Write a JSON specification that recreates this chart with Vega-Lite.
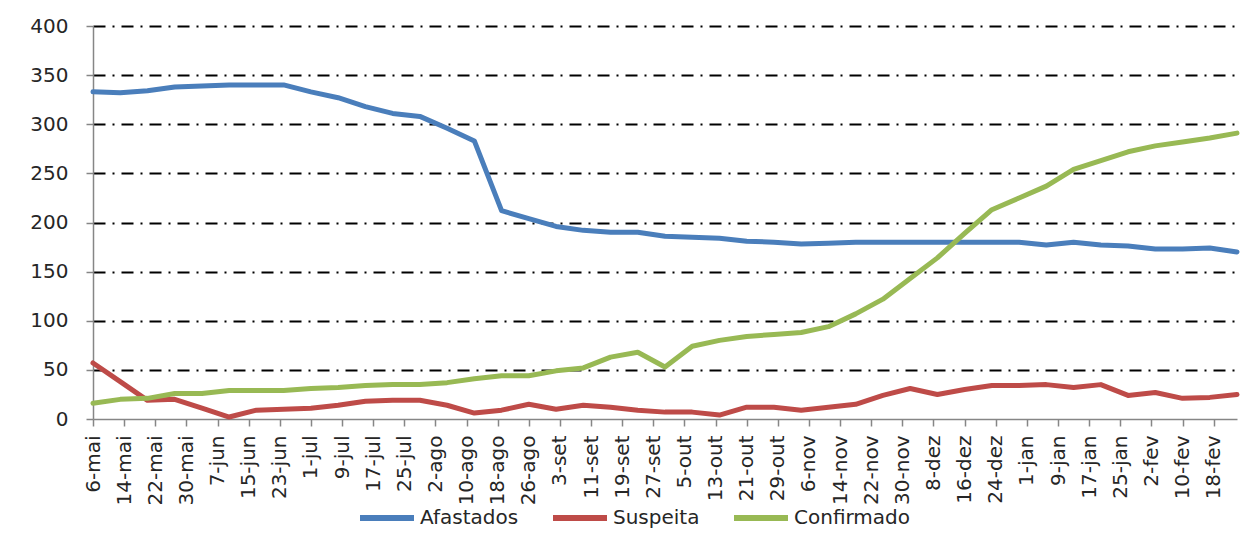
{
  "$schema": "https://vega.github.io/schema/vega-lite/v6.json",
  "width": 1144,
  "height": 393,
  "autosize": {"type": "none"},
  "padding": {"left": 93, "top": 26, "right": 16, "bottom": 116},
  "background": "white",
  "data": {
    "values": [
      {"date": "2020-05-06", "Afastados": 333, "Suspeita": 57, "Confirmado": 16},
      {"date": "2020-05-13", "Afastados": 332, "Suspeita": 38, "Confirmado": 20},
      {"date": "2020-05-20", "Afastados": 334, "Suspeita": 19, "Confirmado": 21},
      {"date": "2020-05-27", "Afastados": 338, "Suspeita": 20, "Confirmado": 26},
      {"date": "2020-06-03", "Afastados": 339, "Suspeita": 11, "Confirmado": 26},
      {"date": "2020-06-10", "Afastados": 340, "Suspeita": 2, "Confirmado": 29},
      {"date": "2020-06-17", "Afastados": 340, "Suspeita": 9, "Confirmado": 29},
      {"date": "2020-06-24", "Afastados": 340, "Suspeita": 10, "Confirmado": 29},
      {"date": "2020-07-01", "Afastados": 333, "Suspeita": 11, "Confirmado": 31},
      {"date": "2020-07-08", "Afastados": 327, "Suspeita": 14, "Confirmado": 32},
      {"date": "2020-07-15", "Afastados": 318, "Suspeita": 18, "Confirmado": 34},
      {"date": "2020-07-22", "Afastados": 311, "Suspeita": 19, "Confirmado": 35},
      {"date": "2020-07-29", "Afastados": 308, "Suspeita": 19, "Confirmado": 35},
      {"date": "2020-08-05", "Afastados": 296, "Suspeita": 14, "Confirmado": 37},
      {"date": "2020-08-12", "Afastados": 283, "Suspeita": 6, "Confirmado": 41},
      {"date": "2020-08-19", "Afastados": 212, "Suspeita": 9, "Confirmado": 44},
      {"date": "2020-08-26", "Afastados": 204, "Suspeita": 15, "Confirmado": 44},
      {"date": "2020-09-02", "Afastados": 196, "Suspeita": 10, "Confirmado": 49},
      {"date": "2020-09-09", "Afastados": 192, "Suspeita": 14, "Confirmado": 52},
      {"date": "2020-09-16", "Afastados": 190, "Suspeita": 12, "Confirmado": 63},
      {"date": "2020-09-23", "Afastados": 190, "Suspeita": 9, "Confirmado": 68},
      {"date": "2020-09-30", "Afastados": 186, "Suspeita": 7, "Confirmado": 53},
      {"date": "2020-10-07", "Afastados": 185, "Suspeita": 7, "Confirmado": 74},
      {"date": "2020-10-14", "Afastados": 184, "Suspeita": 4, "Confirmado": 80},
      {"date": "2020-10-21", "Afastados": 181, "Suspeita": 12, "Confirmado": 84},
      {"date": "2020-10-28", "Afastados": 180, "Suspeita": 12, "Confirmado": 86},
      {"date": "2020-11-04", "Afastados": 178, "Suspeita": 9, "Confirmado": 88},
      {"date": "2020-11-11", "Afastados": 179, "Suspeita": 12, "Confirmado": 94},
      {"date": "2020-11-18", "Afastados": 180, "Suspeita": 15, "Confirmado": 107},
      {"date": "2020-11-25", "Afastados": 180, "Suspeita": 24, "Confirmado": 122},
      {"date": "2020-12-02", "Afastados": 180, "Suspeita": 31, "Confirmado": 143},
      {"date": "2020-12-09", "Afastados": 180, "Suspeita": 25, "Confirmado": 164},
      {"date": "2020-12-16", "Afastados": 180, "Suspeita": 30, "Confirmado": 189},
      {"date": "2020-12-23", "Afastados": 180, "Suspeita": 34, "Confirmado": 213},
      {"date": "2020-12-30", "Afastados": 180, "Suspeita": 34, "Confirmado": 225},
      {"date": "2021-01-06", "Afastados": 177, "Suspeita": 35, "Confirmado": 237},
      {"date": "2021-01-13", "Afastados": 180, "Suspeita": 32, "Confirmado": 254},
      {"date": "2021-01-20", "Afastados": 177, "Suspeita": 35, "Confirmado": 263},
      {"date": "2021-01-27", "Afastados": 176, "Suspeita": 24, "Confirmado": 272},
      {"date": "2021-02-03", "Afastados": 173, "Suspeita": 27, "Confirmado": 278},
      {"date": "2021-02-10", "Afastados": 173, "Suspeita": 21, "Confirmado": 282},
      {"date": "2021-02-17", "Afastados": 174, "Suspeita": 22, "Confirmado": 286},
      {"date": "2021-02-24", "Afastados": 170, "Suspeita": 25, "Confirmado": 291}
    ],
    "format": {"parse": {"date": "date:'%Y-%m-%d'"}}
  },
  "transform": [
    {"fold": ["Afastados", "Suspeita", "Confirmado"], "as": ["serie", "valor"]}
  ],
  "mark": {"type": "line", "strokeWidth": 5, "strokeJoin": "round", "strokeCap": "round"},
  "encoding": {
    "x": {
      "field": "date",
      "type": "temporal",
      "scale": {"domain": [{"year": 2020, "month": 5, "date": 6}, {"year": 2021, "month": 2, "date": 24}], "nice": false},
      "axis": {
        "title": null,
        "grid": false,
        "values": [
          {"year": 2020, "month": 5, "date": 6}, {"year": 2020, "month": 5, "date": 14}, {"year": 2020, "month": 5, "date": 22}, {"year": 2020, "month": 5, "date": 30},
          {"year": 2020, "month": 6, "date": 7}, {"year": 2020, "month": 6, "date": 15}, {"year": 2020, "month": 6, "date": 23}, {"year": 2020, "month": 7, "date": 1},
          {"year": 2020, "month": 7, "date": 9}, {"year": 2020, "month": 7, "date": 17}, {"year": 2020, "month": 7, "date": 25}, {"year": 2020, "month": 8, "date": 2},
          {"year": 2020, "month": 8, "date": 10}, {"year": 2020, "month": 8, "date": 18}, {"year": 2020, "month": 8, "date": 26}, {"year": 2020, "month": 9, "date": 3},
          {"year": 2020, "month": 9, "date": 11}, {"year": 2020, "month": 9, "date": 19}, {"year": 2020, "month": 9, "date": 27}, {"year": 2020, "month": 10, "date": 5},
          {"year": 2020, "month": 10, "date": 13}, {"year": 2020, "month": 10, "date": 21}, {"year": 2020, "month": 10, "date": 29}, {"year": 2020, "month": 11, "date": 6},
          {"year": 2020, "month": 11, "date": 14}, {"year": 2020, "month": 11, "date": 22}, {"year": 2020, "month": 11, "date": 30}, {"year": 2020, "month": 12, "date": 8},
          {"year": 2020, "month": 12, "date": 16}, {"year": 2020, "month": 12, "date": 24}, {"year": 2021, "month": 1, "date": 1}, {"year": 2021, "month": 1, "date": 9},
          {"year": 2021, "month": 1, "date": 17}, {"year": 2021, "month": 1, "date": 25}, {"year": 2021, "month": 2, "date": 2}, {"year": 2021, "month": 2, "date": 10},
          {"year": 2021, "month": 2, "date": 18}
        ],
        "labelExpr": "date(datum.value) + '-' + ['jan','fev','mar','abr','mai','jun','jul','ago','set','out','nov','dez'][month(datum.value)]",
        "labelAngle": 270,
        "labelAlign": "right",
        "labelBaseline": "middle",
        "labelPadding": 9,
        "labelOverlap": false,
        "labelBound": false,
        "labelFlush": false,
        "tickSize": 7,
        "tickColor": "#868686",
        "tickWidth": 1.5,
        "domainColor": "#868686",
        "domainWidth": 1.5
      }
    },
    "y": {
      "field": "valor",
      "type": "quantitative",
      "scale": {"domain": [0, 400], "nice": false},
      "axis": {
        "title": null,
        "values": [0, 50, 100, 150, 200, 250, 300, 350, 400],
        "grid": true,
        "gridColor": "#000000",
        "gridWidth": 2.2,
        "gridDash": [12, 7, 2, 7],
        "gridOpacity": {"condition": {"test": "datum.value === 0", "value": 0}, "value": 1},
        "tickSize": 7,
        "tickColor": "#868686",
        "tickWidth": 1.5,
        "domainColor": "#868686",
        "domainWidth": 1.5,
        "labelPadding": 18
      }
    },
    "color": {
      "field": "serie",
      "type": "nominal",
      "sort": ["Afastados", "Suspeita", "Confirmado"],
      "scale": {"domain": ["Afastados", "Suspeita", "Confirmado"], "range": ["#4A7EBB", "#BE4B48", "#98B954"]},
      "legend": {
        "title": null,
        "orient": "none",
        "direction": "horizontal",
        "legendX": 264,
        "legendY": 462,
        "padding": 0,
        "symbolType": "stroke",
        "symbolSize": 2916,
        "symbolStrokeWidth": 6,
        "labelOffset": 3,
        "columnPadding": 22
      }
    }
  },
  "config": {
    "view": {"stroke": null},
    "font": "DejaVu Sans",
    "axis": {"labelFont": "DejaVu Sans", "labelFontSize": 20, "labelColor": "#262626"},
    "legend": {"labelFont": "DejaVu Sans", "labelFontSize": 20, "labelColor": "#262626"}
  }
}
